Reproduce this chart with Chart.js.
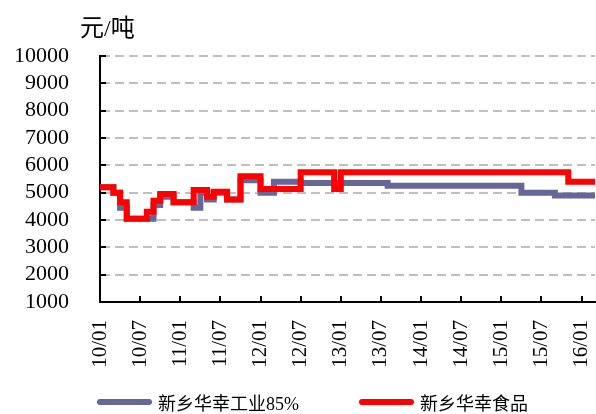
<!DOCTYPE html>
<html>
<head>
<meta charset="utf-8">
<script src="https://cdn.jsdelivr.net/npm/chart.js@4/dist/chart.umd.min.js"></script>
<style>
  html, body { margin: 0; padding: 0; background: #fff; }
  #wrap { position: relative; width: 596px; height: 414px; }
  #legend { position: absolute; left: 97px; top: 389px; display: flex; font: 18px "Liberation Serif", "Noto Sans CJK SC", serif; color: #000; }
  .item { display: flex; align-items: center; margin-right: 60px; }
  .swatch { width: 55px; height: 6px; border-radius: 3px; margin-right: 6px; }
</style>
</head>
<body>
<div id="wrap">
  <canvas id="chart" width="596" height="414"></canvas>
  <div id="legend"></div>
</div>
<script>
// months 10/01 .. 16/03
const months = [];
for (let y = 10; y <= 16; y++) {
  for (let m = 1; m <= 12; m++) {
    if (y === 16 && m > 3) break;
    months.push(y + "/" + String(m).padStart(2, "0"));
  }
}

const industrial = [
  5200, 5200, 5000, 4450, 4050, 4050, 4050, 4050, 4550, 4850, 4850, 4650,
  4650, 4650, 4450, 5000, 4750, 5000, 5000, 4750, 4750, 5450, 5450, 5450,
  5000, 5000, 5400, 5400, 5400, 5400, 5350, 5350, 5350, 5350, 5350, 5350,
  5350, 5350, 5350, 5350, 5350, 5350, 5350, 5250, 5250, 5250, 5250, 5250,
  5250, 5250, 5250, 5250, 5250, 5250, 5250, 5250, 5250, 5250, 5250, 5250,
  5250, 5250, 5250, 5000, 5000, 5000, 5000, 5000, 4900, 4900, 4900, 4900,
  4900, 4900, 4900
];

const food = [
  5200, 5200, 5000, 4650, 4050, 4050, 4050, 4300, 4700, 4950, 4950, 4650,
  4650, 4650, 5100, 5100, 4850, 5030, 5030, 4750, 4750, 5600, 5600, 5600,
  5130, 5130, 5130, 5130, 5130, 5130, 5750, 5750, 5750, 5750, 5750, 5130,
  5750, 5750, 5750, 5750, 5750, 5750, 5750, 5750, 5750, 5750, 5750, 5750,
  5750, 5750, 5750, 5750, 5750, 5750, 5750, 5750, 5750, 5750, 5750, 5750,
  5750, 5750, 5750, 5750, 5750, 5750, 5750, 5750, 5750, 5750, 5400, 5400,
  5400, 5400, 5400
];

const yTicks = [1000, 2000, 3000, 4000, 5000, 6000, 7000, 8000, 9000, 10000];
const seriesNames = ["新乡华幸工业85%", "新乡华幸食品"];
const seriesColors = ["#666699", "#FF0000"];
const unitLabel = "元/吨";

const serif = "'Liberation Serif', 'Noto Sans CJK SC', serif";

// inward tick marks + unit title
const extras = {
  id: "extras",
  beforeDatasetsDraw(chart) {
    const ctx = chart.ctx;
    const xs = chart.scales.x, ys = chart.scales.y;
    const area = chart.chartArea;
    ctx.save();
    ctx.strokeStyle = "#000";
    ctx.lineWidth = 2;
    ctx.beginPath();
    months.forEach((m, i) => {
      if (i % 6 === 0 && i > 0) {
        const px = Math.round(xs.getPixelForValue(i));
        ctx.moveTo(px, area.bottom);
        ctx.lineTo(px, area.bottom - 6);
      }
    });
    yTicks.forEach(v => {
      const py = Math.round(ys.getPixelForValue(v));
      ctx.moveTo(area.left, py);
      ctx.lineTo(area.left + 6, py);
    });
    ctx.stroke();
    ctx.restore();
  },
  afterDraw(chart) {
    const ctx = chart.ctx;
    ctx.save();
    ctx.fillStyle = "#000";
    ctx.font = "24px " + serif;
    ctx.textBaseline = "alphabetic";
    ctx.fillText(unitLabel, 80, 36);
    ctx.restore();
  }
};

new Chart(document.getElementById("chart"), {
  type: "line",
  data: {
    labels: months,
    datasets: [
      {
        label: seriesNames[0],
        data: industrial,
        borderColor: seriesColors[0],
        borderWidth: 6,
        stepped: true,
        pointRadius: 0,
        order: 1
      },
      {
        label: seriesNames[1],
        data: food,
        borderColor: seriesColors[1],
        borderWidth: 6,
        stepped: true,
        pointRadius: 0,
        order: 0
      }
    ]
  },
  options: {
    responsive: false,
    animation: false,
    layout: { padding: { top: 56, right: 1, left: 0, bottom: 0 } },
    plugins: {
      legend: { display: false },
      tooltip: { enabled: false }
    },
    scales: {
      x: {
        type: "category",
        offset: false,
        grid: { display: false, drawTicks: false },
        border: { display: true, color: "#000", width: 2 },
        afterFit: (s) => { s.height = 112; s.paddingLeft = 0; s.paddingRight = 0; },
        ticks: {
          autoSkip: false,
          maxRotation: 90,
          minRotation: 90,
          padding: 18,
          color: "#000",
          font: { family: serif, size: 21 },
          callback: function (v, i) { return i % 6 === 0 ? months[i] : null; }
        }
      },
      y: {
        min: 1000,
        max: 10000,
        afterFit: (s) => { s.width = 100; s.paddingTop = 0; s.paddingBottom = 0; },
        afterBuildTicks: (s) => { s.ticks = yTicks.map(v => ({ value: v })); },
        grid: { color: "#BFBFBF", lineWidth: 2, drawTicks: false },
        border: { display: true, color: "#000", width: 2, dash: [9, 5] },
        ticks: {
          autoSkip: false,
          padding: 31,
          color: "#000",
          font: { family: serif, size: 22 },
          callback: (v) => String(v)
        }
      }
    }
  },
  plugins: [extras]
});

// legend
const legend = document.getElementById("legend");
seriesNames.forEach((name, i) => {
  const item = document.createElement("div");
  item.className = "item";
  const sw = document.createElement("span");
  sw.className = "swatch";
  sw.style.background = seriesColors[i];
  const tx = document.createElement("span");
  tx.textContent = name;
  item.appendChild(sw);
  item.appendChild(tx);
  legend.appendChild(item);
});
</script>
</body>
</html>
